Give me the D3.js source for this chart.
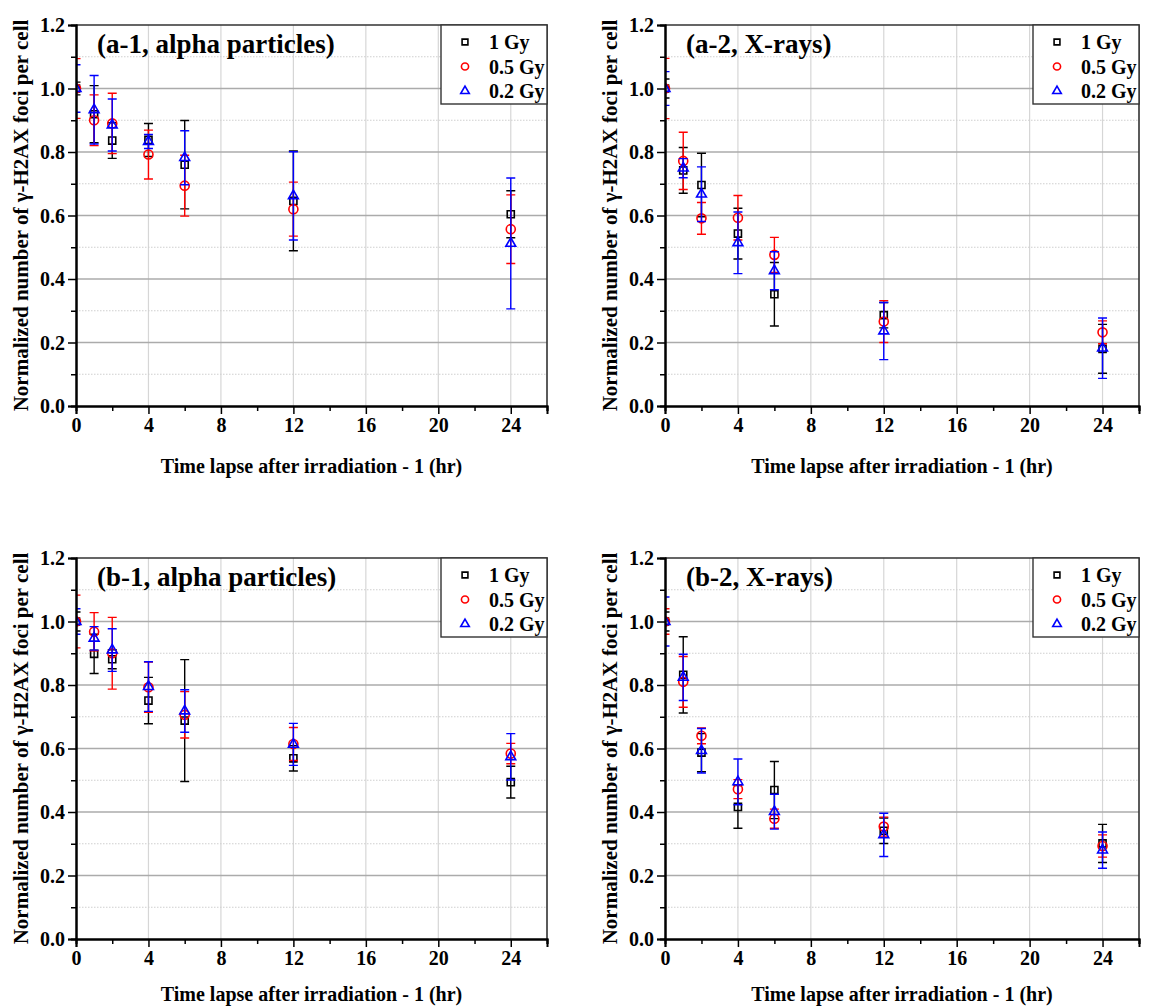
<!DOCTYPE html>
<html>
<head>
<meta charset="utf-8">
<script src="https://cdn.jsdelivr.net/npm/d3@7"></script>
<style>
  body { margin: 0; background: #fff; }
</style>
</head>
<body>
<svg id="drawing_region"></svg>
<script>
// time after irradiation minus 1 hr
const times = [0, 1, 2, 4, 6, 12, 24];
const doses = ["1 Gy", "0.5 Gy", "0.2 Gy"];
const xTicks = [0, 4, 8, 12, 16, 20, 24];
const yTicks = [0.0, 0.2, 0.4, 0.6, 0.8, 1.0, 1.2];
const panelTitles = ["(a-1, alpha particles)", "(a-2, X-rays)", "(b-1, alpha particles)", "(b-2, X-rays)"];

// means per dose (1 Gy, 0.5 Gy, 0.2 Gy) and their error bars
const a1Means = [
  [1.0, 0.919, 0.836, 0.838, 0.760, 0.646, 0.604],
  [1.0, 0.900, 0.890, 0.792, 0.694, 0.620, 0.557],
  [1.0, 0.933, 0.885, 0.833, 0.782, 0.662, 0.512]
];
const a1Errors = [
  [0.02, 0.090, 0.056, 0.052, 0.139, 0.157, 0.074],
  [0.094, 0.080, 0.095, 0.077, 0.096, 0.085, 0.108],
  [0.075, 0.108, 0.082, 0.022, 0.085, 0.139, 0.206]
];
const a2Means = [
  [1.0, 0.742, 0.696, 0.543, 0.352, 0.286, 0.180],
  [1.0, 0.772, 0.591, 0.593, 0.476, 0.266, 0.232],
  [1.0, 0.749, 0.667, 0.514, 0.426, 0.236, 0.182]
];
const a2Errors = [
  [0.03, 0.072, 0.100, 0.080, 0.100, 0.040, 0.077],
  [0.095, 0.090, 0.050, 0.070, 0.055, 0.066, 0.036],
  [0.053, 0.030, 0.086, 0.097, 0.060, 0.090, 0.095]
];
const b1Means = [
  [1.0, 0.898, 0.881, 0.751, 0.688, 0.569, 0.494],
  [1.0, 0.968, 0.900, 0.793, 0.706, 0.614, 0.584],
  [1.0, 0.947, 0.910, 0.795, 0.718, 0.613, 0.574]
];
const b1Errors = [
  [0.03, 0.062, 0.030, 0.073, 0.192, 0.040, 0.050],
  [0.083, 0.060, 0.113, 0.079, 0.073, 0.052, 0.032],
  [0.04, 0.037, 0.067, 0.078, 0.067, 0.066, 0.073]
];
const b2Means = [
  [1.0, 0.832, 0.587, 0.416, 0.469, 0.341, 0.301],
  [1.0, 0.810, 0.640, 0.472, 0.379, 0.354, 0.293],
  [1.0, 0.824, 0.593, 0.495, 0.401, 0.328, 0.280]
];
const b2Errors = [
  [0.03, 0.120, 0.060, 0.067, 0.090, 0.040, 0.060],
  [0.04, 0.080, 0.025, 0.030, 0.030, 0.030, 0.035],
  [0.077, 0.073, 0.070, 0.072, 0.055, 0.068, 0.057]
];

const colors = ["#000000", "#ff0000", "#0000ff"];
const shapes = [d3.symbolSquare, d3.symbolCircle, d3.symbolTriangle];
const symSize = [50, 64, 42];
const legSize = [34, 40, 32];
const FONT = "'Liberation Serif', 'DejaVu Serif', serif";

const svg = d3.select("#drawing_region")
  .attr("width", 1152)
  .attr("height", 1007);

svg.append("rect").attr("width", 1152).attr("height", 1007).attr("fill", "#fff");

class Panel {
  constructor(config, means, errors) {
    this.config = config;
    this.means = means;
    this.errors = errors;
    this.init();
  }
  init() {
    let self = this;
    const c = self.config;
    self.g = svg.append("g").attr("transform", `translate(${c.left},${c.top})`);
    self.x = d3.scaleLinear().domain([0, 26]).range([0, c.width]);
    self.y = d3.scaleLinear().domain([0, 1.2]).range([c.height, 0]);
  }
  render() {
    let self = this;
    const c = self.config, g = self.g, x = self.x, y = self.y;

    // grid
    g.selectAll(".vgrid").data(xTicks.filter(d => d > 0)).enter().append("line")
      .attr("x1", d => x(d)).attr("x2", d => x(d))
      .attr("y1", 0).attr("y2", c.height)
      .attr("stroke", "#d6d6d6").attr("stroke-width", 1.2);
    g.selectAll(".minorgrid").data(d3.range(0.1, 1.2, 0.2)).enter().append("line")
      .attr("x1", 0).attr("x2", c.width)
      .attr("y1", d => y(d)).attr("y2", d => y(d))
      .attr("stroke", "#cfcfcf").attr("stroke-width", 1)
      .attr("stroke-dasharray", "1.5,1.5");
    g.selectAll(".hgrid").data(yTicks.filter(d => d > 0 && d < 1.2)).enter().append("line")
      .attr("x1", 0).attr("x2", c.width)
      .attr("y1", d => y(d)).attr("y2", d => y(d))
      .attr("stroke", "#ababab").attr("stroke-width", 1.5);

    // frame top / right
    g.append("path")
      .attr("d", `M0,0H${c.width}V${c.height}`)
      .attr("fill", "none").attr("stroke", "#333").attr("stroke-width", 1.6);

    // data with clip
    const clipId = "clip" + c.id;
    g.append("clipPath").attr("id", clipId).append("rect")
      .attr("x", 0).attr("y", -10).attr("width", c.width).attr("height", c.height + 10);
    const plot = g.append("g").attr("clip-path", `url(#${clipId})`);

    self.means.forEach((series, s) => {
      const pts = times.map((t, i) => ({ t: t, v: series[i], e: self.errors[s][i] }));
      const sg = plot.append("g");
      sg.selectAll(".bar").data(pts).enter().append("path")
        .attr("d", d => {
          const px = x(d.t), y1 = y(d.v + d.e), y2 = y(d.v - d.e), w = 4.5;
          return `M${px},${y1}V${y2}M${px - w},${y1}H${px + w}M${px - w},${y2}H${px + w}`;
        })
        .attr("fill", "none").attr("stroke", colors[s]).attr("stroke-width", 1.4);
      sg.selectAll(".mark").data(pts).enter().append("path")
        .attr("transform", d => `translate(${x(d.t)},${y(d.v)})`)
        .attr("d", d3.symbol(shapes[s], symSize[s]))
        .attr("fill", "none").attr("stroke", colors[s]).attr("stroke-width", 1.6);
    });

    // axes
    const yAxis = g.append("g")
      .call(d3.axisLeft(y).tickValues(yTicks).tickSize(8).tickFormat(d3.format(".1f")));
    g.append("g")
      .call(d3.axisLeft(y).tickValues(d3.range(0.1, 1.2, 0.2)).tickSize(5).tickFormat(""));
    const xAxis = g.append("g").attr("transform", `translate(0,${c.height})`)
      .call(d3.axisBottom(x).tickValues(xTicks).tickSize(8).tickFormat(d3.format("d")));
    g.append("g").attr("transform", `translate(0,${c.height})`)
      .call(d3.axisBottom(x).tickValues(d3.range(2, 27, 4)).tickSize(5).tickFormat(""));
    g.selectAll(".domain").attr("stroke", "#000").attr("stroke-width", 2);
    g.selectAll(".tick line").attr("stroke", "#000").attr("stroke-width", 1.5);
    yAxis.selectAll("text").attr("font-size", 20).attr("fill", "#000").attr("x", -11).attr("dy", "0.34em");
    xAxis.selectAll("text").attr("font-size", 20).attr("fill", "#000").attr("y", 11).attr("dy", "0.75em");

    // axis titles
    g.append("text")
      .attr("x", c.width / 2).attr("y", c.height + c.titleGap)
      .attr("text-anchor", "middle").attr("font-size", 20)
      .text("Time lapse after irradiation - 1 (hr)");
    g.append("text")
      .attr("transform", `translate(-48,${c.height / 2}) rotate(-90)`)
      .attr("text-anchor", "middle").attr("font-size", 21)
      .text("Normalized number of γ-H2AX foci per cell");

    // panel title
    g.append("text")
      .attr("x", 21).attr("y", 28)
      .attr("font-size", 27)
      .text(c.title);

    // legend
    const lw = 106, lh = 79;
    const leg = g.append("g").attr("transform", `translate(${c.width - lw},0)`);
    leg.append("rect").attr("width", lw).attr("height", lh)
      .attr("fill", "#fff").attr("stroke", "#333").attr("stroke-width", 1.4);
    doses.forEach((d, i) => {
      const cy = 17 + i * 24.5;
      leg.append("path")
        .attr("transform", `translate(24,${cy})`)
        .attr("d", d3.symbol(shapes[i], legSize[i]))
        .attr("fill", "none").attr("stroke", colors[i]).attr("stroke-width", 1.6);
      leg.append("text")
        .attr("x", 48).attr("y", cy).attr("dy", "0.35em")
        .attr("font-size", 20)
        .text(d);
    });

    g.selectAll("text")
      .style("font-family", FONT)
      .style("font-weight", "bold");
  }
}

const panels = [
  { id: 0, left: 76, top: 25, width: 471, height: 381, titleGap: 67, means: a1Means, errors: a1Errors },
  { id: 1, left: 665, top: 25, width: 474, height: 381, titleGap: 67, means: a2Means, errors: a2Errors },
  { id: 2, left: 76, top: 558, width: 471, height: 381, titleGap: 62, means: b1Means, errors: b1Errors },
  { id: 3, left: 665, top: 558, width: 474, height: 381, titleGap: 62, means: b2Means, errors: b2Errors }
];

panels.forEach((p, i) => {
  p.title = panelTitles[i];
  const panel = new Panel(p, p.means, p.errors);
  panel.render();
});
</script>
</body>
</html>
